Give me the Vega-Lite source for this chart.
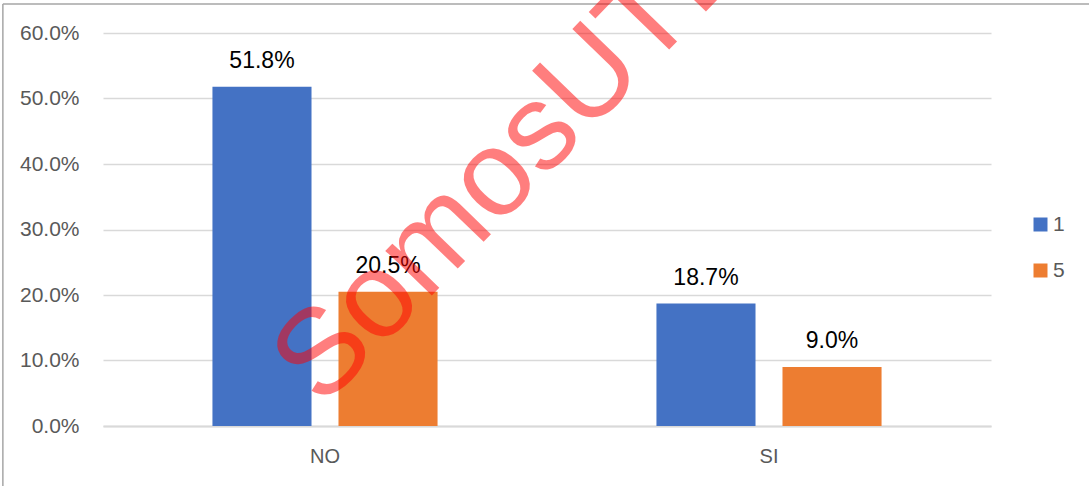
{
  "$schema": "https://vega.github.io/schema/vega-lite/v6.json",
  "width": 888,
  "height": 393,
  "autosize": "none",
  "padding": {"left": 103, "top": 33, "right": 98, "bottom": 60},
  "background": "white",
  "config": {"view": {"stroke": null}, "font": "Liberation Sans"},
  "datasets": {
    "barras": [
      {"respuesta": "NO", "serie": "1", "valor": 0.518},
      {"respuesta": "NO", "serie": "5", "valor": 0.205},
      {"respuesta": "SI", "serie": "1", "valor": 0.187},
      {"respuesta": "SI", "serie": "5", "valor": 0.090}
    ]
  },
  "layer": [
    {
      "data": {"name": "barras"},
      "mark": {"type": "bar"},
      "encoding": {
        "x": {
          "field": "respuesta", "type": "nominal", "sort": ["NO", "SI"],
          "scale": {"paddingInner": 0.493, "paddingOuter": 0.2465},
          "axis": {"title": null, "labelAngle": 0, "ticks": false, "domain": true, "domainColor": "#D9D9D9", "domainWidth": 2, "labelFontSize": 20, "labelColor": "#595959", "labelPadding": 20}
        },
        "xOffset": {"field": "serie", "type": "nominal", "sort": ["1", "5"], "scale": {"paddingInner": 0.214, "paddingOuter": 0}},
        "y": {
          "field": "valor", "type": "quantitative",
          "scale": {"domain": [0, 0.6], "nice": false},
          "axis": {"title": null, "format": ".1%", "values": [0, 0.1, 0.2, 0.3, 0.4, 0.5, 0.6], "grid": true, "gridColor": "#D9D9D9", "gridWidth": 1.5, "domain": false, "ticks": false, "labelFontSize": 21, "labelColor": "#595959", "labelPadding": 24}
        },
        "color": {
          "field": "serie", "type": "nominal",
          "scale": {"domain": ["1", "5"], "range": ["#4472C4", "#ED7D31"]},
          "legend": {"title": null, "orient": "none", "legendX": 927, "legendY": 181, "direction": "vertical", "symbolType": "square", "symbolSize": 196, "symbolStrokeWidth": 0, "labelFontSize": 21, "labelColor": "#595959", "labelOffset": 2, "rowPadding": 24, "padding": 0}
        }
      }
    },
    {
      "data": {"name": "barras"},
      "mark": {"type": "text", "baseline": "alphabetic", "dy": -19, "fontSize": 23, "color": "#000000"},
      "encoding": {
        "x": {"field": "respuesta", "type": "nominal", "sort": ["NO", "SI"]},
        "xOffset": {"field": "serie", "type": "nominal", "sort": ["1", "5"]},
        "y": {"field": "valor", "type": "quantitative"},
        "text": {"field": "valor", "type": "quantitative", "format": ".1%"}
      }
    },
    {
      "data": {"values": [{}]},
      "mark": {"type": "rule", "color": "#A6A6A6", "strokeWidth": 1.5},
      "encoding": {
        "x": {"datum": "NO", "bandPosition": -0.931},
        "x2": {"datum": "SI", "bandPosition": 2.5},
        "y": {"datum": 0.6443}
      }
    },
    {
      "data": {"values": [{}]},
      "mark": {"type": "rule", "color": "#A6A6A6", "strokeWidth": 1.5},
      "encoding": {
        "x": {"datum": "NO", "bandPosition": -0.931},
        "y": {"datum": 0.6443},
        "y2": {"datum": -0.2}
      }
    },
    {
      "data": {"values": [{}]},
      "mark": {"type": "text", "angle": -46, "align": "center", "baseline": "alphabetic", "fontSize": 122, "color": "#FF0000", "opacity": 0.5},
      "encoding": {
        "x": {"datum": "NO", "bandPosition": 1.45},
        "y": {"datum": 0.3687},
        "text": {"value": "SomosUTE"}
      }
    }
  ]
}
